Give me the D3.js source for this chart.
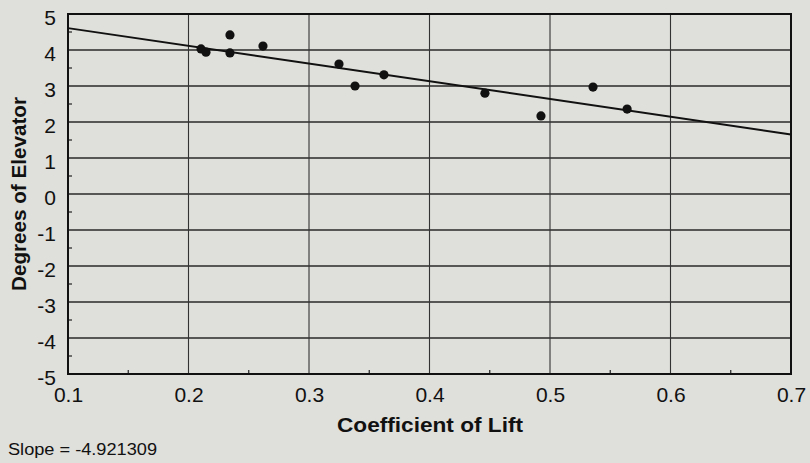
<!DOCTYPE html>
<html>
<head>
<meta charset="utf-8">
<script src="https://cdn.jsdelivr.net/npm/d3@7"></script>
<style>
  html, body { margin: 0; padding: 0; background: #dfdfdb; }
  svg { display: block; }
  text { font-family: Arial, "Liberation Sans", sans-serif; fill: #111; }
</style>
</head>
<body>
<script>
// Data
const liftCoeff = [0.2104, 0.2145, 0.2344, 0.2344, 0.2618, 0.3249, 0.3382, 0.3622, 0.446, 0.4925, 0.5357, 0.564];
const elevatorDeg = [4.03, 3.94, 4.42, 3.92, 4.11, 3.61, 3.0, 3.31, 2.8, 2.17, 2.97, 2.36];
const fitSlope = -4.921309;
const fitIntercept = 5.10;
const xTicks = [0.1, 0.2, 0.3, 0.4, 0.5, 0.6, 0.7];
const yTicks = [-5, -4, -3, -2, -1, 0, 1, 2, 3, 4, 5];
const xMinorTicks = [0.15, 0.25, 0.35, 0.45, 0.55, 0.65];
const yMinorTicks = [-4.5, -3.5, -2.5, -1.5, -0.5, 0.5, 1.5, 2.5, 3.5, 4.5];
const xTitle = "Coefficient of Lift";
const yTitle = "Degrees of Elevator";
const slopeLabel = "Slope = -4.921309";

const W = 810, H = 463;
const margin = {left: 68, right: 19, top: 14, bottom: 89};
const FONT = "Arial, 'Liberation Sans', sans-serif";

const svg = d3.select("body").append("svg").attr("width", W).attr("height", H);
svg.append("rect").attr("width", W).attr("height", H).attr("fill", "#dfdfdb");

const x = d3.scaleLinear().domain([0.1, 0.7]).range([margin.left, W - margin.right]);
const y = d3.scaleLinear().domain([-5, 5]).range([H - margin.bottom, margin.top]);

// grid
svg.append("g").selectAll("line").data(yTicks).join("line")
  .attr("x1", x(0.1)).attr("x2", x(0.7))
  .attr("y1", d => y(d)).attr("y2", d => y(d))
  .attr("stroke", "#2a2a2a").attr("stroke-width", 1.6);
svg.append("g").selectAll("line").data(xTicks).join("line")
  .attr("y1", y(-5)).attr("y2", y(5))
  .attr("x1", d => x(d)).attr("x2", d => x(d))
  .attr("stroke", "#333").attr("stroke-width", 1.1);

// minor ticks (inward)
svg.append("g").selectAll("line").data(yMinorTicks).join("line")
  .attr("x1", x(0.1)).attr("x2", x(0.1) + 4)
  .attr("y1", d => y(d)).attr("y2", d => y(d))
  .attr("stroke", "#222").attr("stroke-width", 1.2);
svg.append("g").selectAll("line").data(xMinorTicks).join("line")
  .attr("y1", y(-5)).attr("y2", y(-5) - 4)
  .attr("x1", d => x(d)).attr("x2", d => x(d))
  .attr("stroke", "#222").attr("stroke-width", 1.2);

// border
svg.append("rect").attr("x", x(0.1)).attr("y", y(5))
  .attr("width", x(0.7) - x(0.1)).attr("height", y(-5) - y(5))
  .attr("fill", "none").attr("stroke", "#111").attr("stroke-width", 2);

// axes labels via d3 axes
const xAxis = svg.append("g").attr("transform", `translate(0,${y(-5)})`)
  .call(d3.axisBottom(x).tickValues(xTicks).tickSize(0).tickPadding(13).tickFormat(d => d.toFixed(1)));
xAxis.select(".domain").remove();
xAxis.selectAll("text").attr("font-size", 21).attr("font-family", FONT).attr("fill", "#111");

const yAxis = svg.append("g").attr("transform", `translate(${x(0.1)},0)`)
  .call(d3.axisLeft(y).tickValues(yTicks).tickSize(0).tickPadding(12).tickFormat(d => String(d)));
yAxis.select(".domain").remove();
yAxis.selectAll("text").attr("font-size", 21).attr("dy", "0.5em").attr("font-family", FONT).attr("fill", "#111");

// fit line
const line = d3.line().x(d => x(d)).y(d => y(fitIntercept + fitSlope * d));
svg.append("path").datum([0.1, 0.7]).attr("d", line)
  .attr("fill", "none").attr("stroke", "#111").attr("stroke-width", 2);

// points
svg.append("g").selectAll("circle").data(liftCoeff).join("circle")
  .attr("cx", d => x(d)).attr("cy", (d, i) => y(elevatorDeg[i]))
  .attr("r", 4.6).attr("fill", "#111");

// titles
svg.append("text").attr("x", 430).attr("y", 432).attr("text-anchor", "middle")
  .attr("font-size", 21).attr("font-weight", "bold")
  .attr("textLength", 186).attr("lengthAdjust", "spacingAndGlyphs").text(xTitle);
svg.append("text").attr("transform", `translate(26,${(y(5) + y(-5)) / 2}) rotate(-90)`)
  .attr("text-anchor", "middle").attr("font-size", 21).attr("font-weight", "bold")
  .attr("textLength", 194).attr("lengthAdjust", "spacingAndGlyphs").text(yTitle);

svg.append("text").attr("x", 8).attr("y", 455).attr("font-size", 16)
  .attr("textLength", 149).attr("lengthAdjust", "spacingAndGlyphs").text(slopeLabel);
</script>
</body>
</html>
